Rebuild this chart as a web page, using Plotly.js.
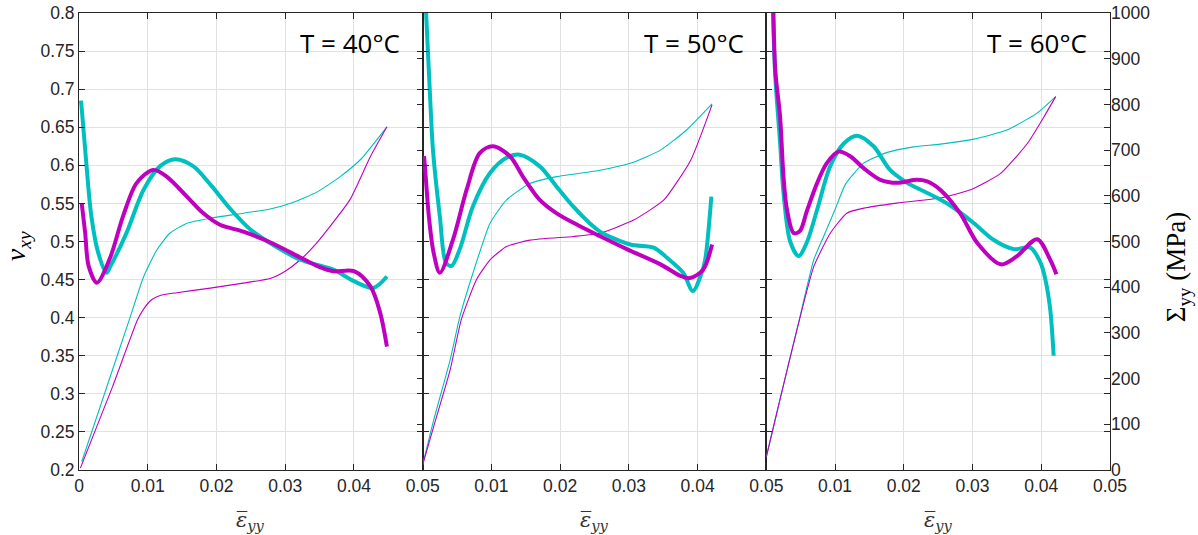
<!DOCTYPE html>
<html>
<head>
<meta charset="utf-8">
<script src="https://cdn.plot.ly/plotly-3.0.1.min.js"></script>
<style>html,body{margin:0;padding:0;background:#fff;}#chart{width:1198px;height:535px;}</style>
</head>
<body>
<div id="chart"></div>
<script>
// ---------- data ----------
const panelLabels = ["T = 40°C", "T = 50°C", "T = 60°C"];
const xTicksFirst = [0, 0.01, 0.02, 0.03, 0.04, 0.05];
const xTicksOther = [0.01, 0.02, 0.03, 0.04, 0.05];

// T = 40 °C
const eps40_nuC = [0.0003,0.0011,0.0018,0.0028,0.0040,0.0046,0.0069,0.0094,0.0118,0.0140,0.0166,0.0191,0.0220,0.0249,0.0278,0.0322,0.0370,0.0400,0.0428,0.0448];
const nu40_C    = [0.685,0.599,0.533,0.485,0.459,0.468,0.511,0.568,0.599,0.608,0.599,0.575,0.543,0.516,0.498,0.476,0.463,0.448,0.439,0.454];
const eps40_nuM = [0.0004,0.0009,0.0014,0.0026,0.0045,0.0064,0.0084,0.0108,0.0128,0.0157,0.0181,0.0205,0.0239,0.0278,0.0322,0.0346,0.0370,0.0400,0.0424,0.0438,0.0448];
const nu40_M    = [0.550,0.511,0.468,0.446,0.478,0.533,0.577,0.594,0.585,0.559,0.537,0.522,0.513,0.499,0.479,0.468,0.461,0.461,0.441,0.407,0.362];
const eps40_sC  = [0.0004,0.0040,0.0073,0.0094,0.0113,0.0132,0.0157,0.0191,0.0239,0.0278,0.0310,0.0346,0.0380,0.0410,0.0448];
const sig40_C   = [18,180,328,423,481,518,540,551,562,571,585,608,642,680,751];
const eps40_sM  = [0.0002,0.0049,0.0085,0.0094,0.0105,0.0118,0.0142,0.0191,0.0239,0.0278,0.0300,0.0322,0.0346,0.0394,0.0424,0.0448];
const sig40_M   = [4,183,328,352,372,382,388,398,409,419,435,460,497,591,686,751];

// T = 50 °C
const eps50_nuC = [0.0005,0.0011,0.0015,0.0025,0.0034,0.0042,0.0054,0.0073,0.0098,0.0122,0.0141,0.0170,0.0195,0.0219,0.0243,0.0258,0.0302,0.0336,0.0355,0.0379,0.0393,0.0406,0.0411,0.0420];
const nu50_C    = [0.800,0.686,0.620,0.533,0.472,0.468,0.490,0.546,0.590,0.610,0.614,0.599,0.572,0.546,0.524,0.513,0.496,0.492,0.479,0.459,0.435,0.459,0.476,0.559];
const eps50_nuM = [0.0002,0.0004,0.0009,0.0016,0.0025,0.0044,0.0064,0.0083,0.0102,0.0127,0.0146,0.0170,0.0195,0.0229,0.0258,0.0297,0.0346,0.0375,0.0389,0.0408,0.0421];
const nu50_M    = [0.612,0.590,0.533,0.485,0.459,0.502,0.568,0.616,0.625,0.612,0.585,0.555,0.537,0.520,0.507,0.490,0.470,0.455,0.452,0.463,0.496];
const eps50_sC  = [0.0000,0.0016,0.0040,0.0054,0.0073,0.0098,0.0122,0.0156,0.0195,0.0258,0.0302,0.0346,0.0384,0.0421];
const sig50_C   = [11,109,241,335,430,540,591,627,642,656,671,700,744,801];
const eps50_sM  = [0.0000,0.0016,0.0040,0.0056,0.0078,0.0098,0.0122,0.0156,0.0219,0.0258,0.0307,0.0351,0.0390,0.0421];
const sig50_M   = [11,95,219,328,416,460,489,503,511,518,547,591,678,799];

// T = 60 °C
const eps60_nuC = [0.0009,0.0013,0.0020,0.0025,0.0035,0.0047,0.0059,0.0074,0.0093,0.0113,0.0132,0.0156,0.0180,0.0205,0.0229,0.0253,0.0273,0.0302,0.0331,0.0360,0.0384,0.0399,0.0406,0.0413,0.0418];
const nu60_C    = [0.820,0.717,0.630,0.564,0.499,0.481,0.499,0.542,0.599,0.629,0.639,0.625,0.594,0.577,0.566,0.555,0.544,0.524,0.502,0.490,0.492,0.472,0.450,0.411,0.350];
const eps60_nuM = [0.0010,0.0013,0.0020,0.0025,0.0030,0.0040,0.0049,0.0059,0.0074,0.0088,0.0105,0.0122,0.0142,0.0166,0.0190,0.0219,0.0234,0.0253,0.0282,0.0307,0.0341,0.0365,0.0394,0.0413,0.0422];
const nu60_M    = [0.820,0.725,0.664,0.585,0.542,0.511,0.514,0.540,0.577,0.603,0.618,0.612,0.596,0.581,0.577,0.581,0.579,0.568,0.537,0.498,0.470,0.481,0.503,0.476,0.457];
const eps60_sC  = [0.0000,0.0020,0.0045,0.0069,0.0083,0.0100,0.0115,0.0142,0.0176,0.0214,0.0253,0.0302,0.0350,0.0394,0.0421];
const sig60_C   = [29,155,310,460,510,570,625,672,695,707,713,724,744,781,817];
const eps60_sM  = [0.0000,0.0020,0.0045,0.0069,0.0093,0.0117,0.0142,0.0190,0.0253,0.0297,0.0341,0.0380,0.0404,0.0421];
const sig60_M   = [29,155,310,445,518,562,573,584,595,613,649,715,773,817];

// ---------- styling ----------
const CYAN = '#00BFBF', MAG = '#BF00BF';
const AXC = '#262626';
const TICKFONT = {family: 'Liberation Sans, Arial, sans-serif', size: 17.5, color: AXC};

function thin(x, y, c, xa, ya) {
  return {x: x, y: y, xaxis: xa, yaxis: ya, type: 'scatter', mode: 'lines',
          line: {color: c, width: 1.1, shape: 'spline', smoothing: 0.5}, hoverinfo: 'skip', showlegend: false};
}
function thick(x, y, c, xa, ya) {
  return {x: x, y: y, xaxis: xa, yaxis: ya, type: 'scatter', mode: 'lines',
          line: {color: c, width: 4, shape: 'spline', smoothing: 0.9}, hoverinfo: 'skip', showlegend: false};
}

// Σ axes are base (y, y3, y5); ν axes overlay them (y2, y4, y6)
const traces = [
  thin(eps40_sC, sig40_C, CYAN, 'x', 'y'),
  thin(eps40_sM, sig40_M, MAG, 'x', 'y'),
  thick(eps40_nuC, nu40_C, CYAN, 'x', 'y2'),
  thick(eps40_nuM, nu40_M, MAG, 'x', 'y2'),
  thin(eps50_sC, sig50_C, CYAN, 'x2', 'y3'),
  thin(eps50_sM, sig50_M, MAG, 'x2', 'y3'),
  thick(eps50_nuC, nu50_C, CYAN, 'x2', 'y4'),
  thick(eps50_nuM, nu50_M, MAG, 'x2', 'y4'),
  thin(eps60_sC, sig60_C, CYAN, 'x3', 'y5'),
  thin(eps60_sM, sig60_M, MAG, 'x3', 'y5'),
  thick(eps60_nuC, nu60_C, CYAN, 'x3', 'y6'),
  thick(eps60_nuM, nu60_M, MAG, 'x3', 'y6')
];

function xAxis(domain, anchor, tickvals) {
  return {domain: domain, anchor: anchor, range: [0, 0.05], tickmode: 'array', tickvals: tickvals,
          ticktext: tickvals.map(v => v === 0 ? '0' : String(v)),
          ticks: 'inside', ticklen: 6, tickcolor: AXC, showline: true, linecolor: AXC, linewidth: 1,
          mirror: 'ticks', showgrid: true, gridcolor: '#e1e1e1', gridwidth: 1, zeroline: false,
          tickfont: TICKFONT, fixedrange: true};
}
function sigAxis(anchor, labels) {
  return {anchor: anchor, side: 'right', range: [0, 1000], dtick: 100, tick0: 0,
          ticks: 'inside', ticklen: 6, tickcolor: AXC, showline: false, showgrid: false, zeroline: false,
          showticklabels: labels, tickfont: TICKFONT, fixedrange: true};
}
function nuAxis(anchor, overlay, labels) {
  return {anchor: anchor, overlaying: overlay, side: 'left', range: [0.2, 0.8], dtick: 0.05, tick0: 0.2,
          ticks: 'inside', ticklen: 6, tickcolor: AXC, showline: true, linecolor: AXC, linewidth: 1,
          mirror: 'ticks', showgrid: true, gridcolor: '#e1e1e1', gridwidth: 1, zeroline: false,
          showticklabels: labels, tickfont: TICKFONT, fixedrange: true};
}

const annFont = {family: 'Open Sans, sans-serif', size: 26, color: '#000'};
const xTitle = '<i>ε̅</i><sub><i>yy</i></sub>';
const annotations = [];
['x', 'x2', 'x3'].forEach((xa, i) => {
  annotations.push({xref: xa + ' domain', yref: 'paper', x: 0.94, y: 0.934, xanchor: 'right', yanchor: 'middle',
                    text: panelLabels[i], showarrow: false, font: annFont});
  annotations.push({xref: xa + ' domain', yref: 'paper', x: 0.5, y: -0.112, xanchor: 'center', yanchor: 'middle',
                    text: xTitle, showarrow: false, font: {family: 'DejaVu Serif, serif', size: 21, color: '#333'}});
});
annotations.push({xref: 'paper', yref: 'paper', x: -0.060, y: 0.49, xanchor: 'center', yanchor: 'middle', textangle: -90,
                  text: '<i>ν</i><sub><i>xy</i></sub>', showarrow: false,
                  font: {family: 'Liberation Serif, serif', size: 28, color: '#000'}});
annotations.push({xref: 'paper', yref: 'paper', x: 1.066, y: 0.444, xanchor: 'center', yanchor: 'middle', textangle: -90,
                  text: 'Σ<sub>yy</sub> (MPa)', showarrow: false,
                  font: {family: 'Liberation Serif, serif', size: 27, color: '#000'}});

const layout = {
  width: 1198, height: 535,
  margin: {l: 79, r: 88, t: 13, b: 65, pad: 0},
  paper_bgcolor: '#ffffff', plot_bgcolor: '#ffffff',
  showlegend: false,
  xaxis: xAxis([0, 1/3], 'y', xTicksFirst),
  xaxis2: xAxis([1/3, 2/3], 'y3', xTicksOther),
  xaxis3: xAxis([2/3, 1], 'y5', xTicksOther),
  yaxis: sigAxis('x', false),
  yaxis2: nuAxis('x', 'y', true),
  yaxis3: sigAxis('x2', false),
  yaxis4: nuAxis('x2', 'y3', false),
  yaxis5: sigAxis('x3', true),
  yaxis6: nuAxis('x3', 'y5', false),
  annotations: annotations
};

Plotly.newPlot('chart', traces, layout, {displayModeBar: false, staticPlot: true});
</script>
</body>
</html>
